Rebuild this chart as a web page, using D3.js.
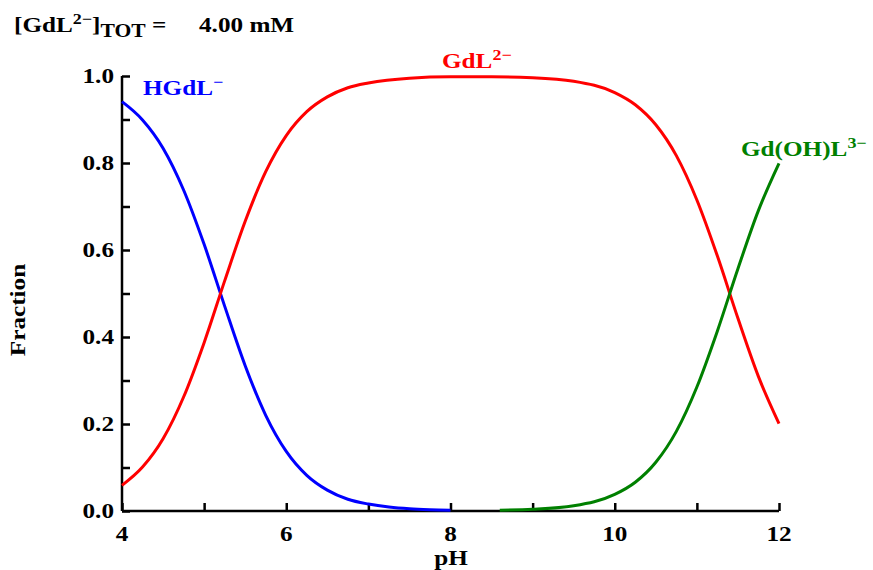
<!DOCTYPE html>
<html>
<head>
<meta charset="utf-8">
<script src="https://cdn.jsdelivr.net/npm/d3@7"></script>
<style>
  body { margin: 0; background: #fff; }
  text { font-family: "Liberation Serif", "Times New Roman", serif; font-weight: bold; }
</style>
</head>
<body>
<div id="chart"></div>
<script>
// species fractions
let phHGdL = [4.0, 4.25, 4.5, 4.75, 5.0, 5.25, 5.5, 5.75, 6.0, 6.25, 6.5, 6.75, 7.0, 7.25, 7.5, 7.75, 8.0];
let fracHGdL = [0.941, 0.899, 0.834, 0.738, 0.613, 0.471, 0.334, 0.220, 0.137, 0.082, 0.048, 0.027, 0.016, 0.009, 0.005, 0.003, 0.002];

let phGdL = [4.0, 4.25, 4.5, 4.75, 5.0, 5.25, 5.5, 5.75, 6.0, 6.25, 6.5, 6.75, 7.0, 7.5, 8.0, 8.5, 9.0, 9.5, 10.0, 10.25, 10.5, 10.75, 11.0, 11.25, 11.5, 11.75, 12.0];
let fracGdL = [0.059, 0.101, 0.166, 0.262, 0.387, 0.529, 0.666, 0.780, 0.863, 0.918, 0.952, 0.973, 0.984, 0.995, 0.998, 0.998, 0.996, 0.988, 0.962, 0.934, 0.888, 0.817, 0.715, 0.586, 0.443, 0.309, 0.201];

let phGdOHL = [8.6, 9.0, 9.5, 10.0, 10.25, 10.5, 10.75, 11.0, 11.25, 11.5, 11.75, 12.0];
let fracGdOHL = [0.002, 0.004, 0.012, 0.038, 0.066, 0.112, 0.183, 0.285, 0.414, 0.557, 0.691, 0.799];

let xTicks = [4, 6, 8, 10, 12];
let yTicks = [0, 0.2, 0.4, 0.6, 0.8, 1.0];

const width = 873, height = 570;
const stretch = 1.2;   // the original lettering is wider than Times

const svg = d3.select("#chart").append("svg")
  .attr("width", width)
  .attr("height", height);

const xScale = d3.scaleLinear().domain([4, 12]).range([122, 779]);
const yScale = d3.scaleLinear().domain([0, 1]).range([511, 76]);

// text helper: positioned by translate, then stretched horizontally
function addText(x, y, size, anchor, rot) {
  let tf = `translate(${x},${y})`;
  if (rot) tf += ` rotate(${rot})`;
  tf += ` scale(${stretch},1)`;
  return svg.append("text")
    .attr("transform", tf)
    .attr("text-anchor", anchor || "start")
    .attr("font-size", size + "px");
}

// x axis (ticks pointing up)
const xAxis = svg.append("g")
  .attr("transform", `translate(0, ${yScale(0)})`)
  .call(d3.axisTop(xScale).tickValues(d3.range(4, 12.01, 1)).tickSize(8).tickFormat(""));
xAxis.select(".domain").attr("stroke-width", 2.5).attr("d", `M${xScale(4)},0H${xScale(12)}`);
xAxis.selectAll(".tick line").attr("stroke-width", 2.5);

xTicks.forEach(d => {
  addText(xScale(d), yScale(0) + 30, 21, "middle").text(d);
});

// y axis (ticks pointing right)
const yAxis = svg.append("g")
  .attr("transform", `translate(${xScale(4)}, 0)`)
  .call(d3.axisRight(yScale).tickValues(d3.range(0, 1.001, 0.1)).tickSize(8).tickFormat(""));
yAxis.select(".domain").attr("stroke-width", 2.5).attr("d", `M0,${yScale(0)}V${yScale(1)}`);
yAxis.selectAll(".tick line").attr("stroke-width", 2.5);

yTicks.forEach(d => {
  addText(xScale(4) - 8, yScale(d) + 7, 21, "end").text(d3.format(".1f")(d));
});

// axis titles
addText(451, 565, 21, "middle").text("pH");
addText(25, 310, 21, "middle", -90).text("Fraction");

// curves
const line = d3.line()
  .x(d => xScale(d[0]))
  .y(d => yScale(d[1]))
  .curve(d3.curveMonotoneX);

const series = [
  { ph: phHGdL, frac: fracHGdL, color: "#0000ff" },
  { ph: phGdL, frac: fracGdL, color: "#ff0000" },
  { ph: phGdOHL, frac: fracGdOHL, color: "#008000" }
];

series.forEach(s => {
  svg.append("path")
    .datum(d3.zip(s.ph, s.frac))
    .attr("fill", "none")
    .attr("stroke", s.color)
    .attr("stroke-width", 3)
    .attr("d", line);
});

// curve labels
function label(x, y, color, main, sup) {
  const t = addText(x, y, 21).attr("fill", color);
  t.append("tspan").text(main);
  t.append("tspan").attr("dy", -8).attr("font-size", "15px").text(sup);
}
label(143, 95, "#0000ff", "HGdL", "\u2212");
label(442, 68, "#ff0000", "GdL", "2\u2212");
label(741, 156, "#008000", "Gd(OH)L", "3\u2212");

// header text
const h = addText(14, 32, 21);
h.append("tspan").text("[GdL");
h.append("tspan").attr("dy", -8).attr("font-size", "15px").text("2\u2212");
h.append("tspan").attr("dy", 8).text("]");
h.append("tspan").attr("dy", 5).attr("font-size", "18px").text("TOT");
h.append("tspan").attr("dy", -5).text(" =");
addText(199, 32, 21).text("4.00 mM");
</script>
</body>
</html>
